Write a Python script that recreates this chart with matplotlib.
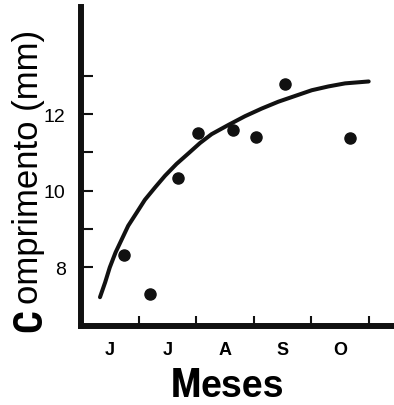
import matplotlib.pyplot as plt
from matplotlib import font_manager as fm
import numpy as np

# monthly mean length (mm), months counted from start of June
pts_t = [0.75, 1.20, 1.69, 2.04, 2.65, 3.04, 3.54, 4.68]
pts_len = [8.31, 7.29, 10.34, 11.52, 11.59, 11.40, 12.79, 11.38]

# fitted growth curve
curve_t = [0.33, 0.42, 0.50, 0.60, 0.71, 0.82, 0.97, 1.11, 1.29, 1.46,
           1.66, 1.87, 2.07, 2.27, 2.56, 2.85, 3.14, 3.43, 3.72, 4.01,
           4.30, 4.59, 5.00]
curve_len = [7.21, 7.60, 7.99, 8.38, 8.73, 9.08, 9.43, 9.76, 10.09, 10.39,
             10.70, 10.98, 11.25, 11.48, 11.72, 11.95, 12.15, 12.33, 12.48,
             12.63, 12.73, 12.81, 12.86]

months = ['J', 'J', 'A', 'S', 'O']
ytick_vals = [8, 9, 10, 11, 12, 13]
ytick_labels = ['8', '', '10', '', '12', '']

# heavy condensed face for the big initials, if one is installed
wanted = ['LiberationSansNarrow-Bold', 'RobotoCondensed-Bold',
          'DejaVuSansCondensed-Bold', 'OpenSans-CondBold',
          'OpenSansCondensed-Bold']
cond_file = None
for w in wanted:
    hits = [f.fname for f in fm.fontManager.ttflist if w in f.fname]
    if hits:
        cond_file = hits[0]
        break
if cond_file:
    big = fm.FontProperties(fname=cond_file, size=29)
else:
    big = fm.FontProperties(family='Liberation Sans', weight='bold', size=23)

W, H = 394, 406
fig = plt.figure(figsize=(W / 100, H / 100), dpi=100)
ax = fig.add_axes([81 / W, (H - 327) / H, (W - 81) / W, (327 - 8) / H])

ax.plot(curve_t, curve_len, color='#111111', lw=2.9, solid_capstyle='round',
        solid_joinstyle='round')
ax.plot(pts_t, pts_len, 'o', color='#111111', ms=8)

ax.set_xlim(0, 5.44)
ax.set_ylim(6.456, 14.81)

for s in ['top', 'right']:
    ax.spines[s].set_visible(False)
for s in ['left', 'bottom']:
    ax.spines[s].set_linewidth(4.3)
    ax.spines[s].set_color('#111111')
    ax.spines[s].set_capstyle('projecting')

ax.set_yticks(ytick_vals)
ax.set_yticklabels(ytick_labels, family='Liberation Sans', fontsize=14)
ax.tick_params(axis='y', direction='in', length=8.6, width=1.5, pad=11,
               color='#111111')

ax.set_xticks([1, 2, 3, 4, 5])
ax.set_xticklabels([])
ax.set_xticks(np.arange(len(months)) + 0.5, minor=True)
ax.set_xticklabels(months, minor=True, family='Liberation Sans',
                   fontsize=13, fontweight='bold')
ax.tick_params(axis='x', which='major', direction='in', length=7.2, width=1.5,
               color='#111111')
ax.tick_params(axis='x', which='minor', length=0, pad=11)

# axis titles with an enlarged heavy first letter
fig.text(171 / W, 9 / H, 'M', fontproperties=big, ha='left', va='baseline')
fig.text(201 / W, 9 / H, 'eses', family='Liberation Sans', fontweight='bold',
         fontsize=27, ha='left', va='baseline')

fig.text(41 / W, 74 / H, 'C', fontproperties=big, rotation=90,
         rotation_mode='anchor', ha='left', va='baseline')
fig.text(38 / W, 102 / H, 'omprimento (mm)', family='Liberation Sans',
         fontsize=25, rotation=90, rotation_mode='anchor', ha='left',
         va='baseline')

fig.savefig('out.png', dpi=100)
